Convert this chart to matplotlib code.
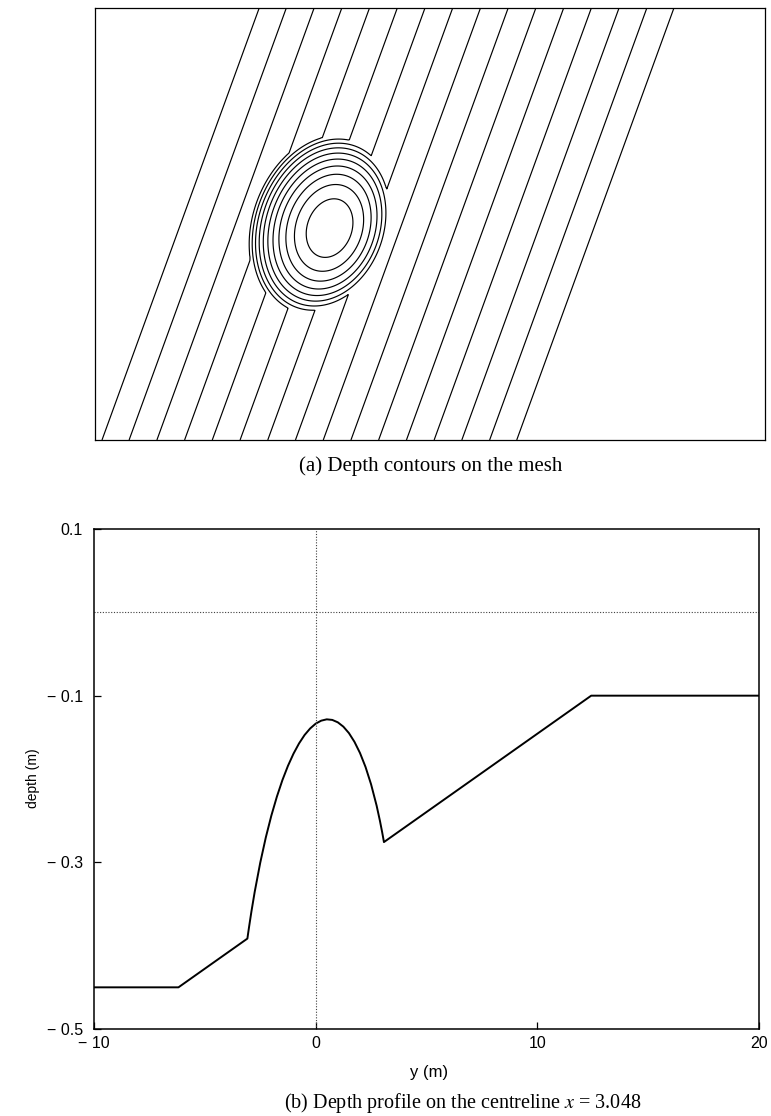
import numpy as np
import matplotlib
matplotlib.use("Agg")
import matplotlib.pyplot as plt

# ---------------- data ----------------
# Bathymetry (Berkhoff-type elliptic shoal on a 1:50 slope rotated 20 deg)
rotation_deg = 20.0
deep_depth = 0.45          # m
shallow_depth = 0.10       # m
slope_gradient = 0.02
slope_start = -5.82        # y' where the slope begins
shoal_axes = [4.0, 3.0]    # semi-axes of shoal footprint (x', y')
cap_axes = [5.0, 3.75]     # semi-axes of the cap function
cap_coeffs = [0.5, -0.3]   # cap = a*sqrt(...) + b

domain_y = [-10.0, 20.0]
domain_x = [-9.67, 9.67]

contour_levels = [0.1005, 0.1233, 0.1467, 0.1700, 0.1933, 0.2167, 0.2400,
                  0.2633, 0.2867, 0.3100, 0.3333, 0.3567, 0.3800, 0.4033,
                  0.4267, 0.4495]

# Depth profile on the centreline
profile_y = [-10.0, -6.19, -3.08, -3.05, -3.0, -2.9, -2.75, -2.5, -2.25, -2.0,
             -1.75, -1.5, -1.25, -1.0, -0.75, -0.5, -0.25, 0.0, 0.25, 0.5,
             0.75, 1.0, 1.25, 1.5, 1.75, 2.0, 2.25, 2.5, 2.75, 2.9, 3.0,
             3.05, 3.08, 12.43, 20.0]
profile_depth = [-0.450, -0.450, -0.3915, -0.3858, -0.3767, -0.3593, -0.3354,
                 -0.3004, -0.2702, -0.2440, -0.2212, -0.2013, -0.1842, -0.1696,
                 -0.1573, -0.1472, -0.1394, -0.1336, -0.1300, -0.1284, -0.1291,
                 -0.1320, -0.1372, -0.1449, -0.1554, -0.1688, -0.1856, -0.2064,
                 -0.2320, -0.2503, -0.2639, -0.2712, -0.2757, -0.100, -0.100]

ytick_vals = [0.1, -0.1, -0.3, -0.5]
ytick_labels = ["0.1", "\u2212 0.1", "\u2212 0.3", "\u2212 0.5"]
xtick_vals = [-10, 0, 10, 20]
xtick_labels = ["\u2212 10", "0", "10", "20"]

# ---------------- figure ----------------
W, H = 771, 1116
fig = plt.figure(figsize=(W / 100, H / 100), dpi=100)

def ax_rect(l, t, r, b):
    return [l / W, 1 - b / H, (r - l) / W, (b - t) / H]

sans = ["Liberation Sans", "DejaVu Sans"]
serif = ["Liberation Serif", "DejaVu Serif"]

# ---- (a) contours ----
ax1 = fig.add_axes(ax_rect(95, 8, 765, 440))
yy = np.linspace(domain_y[0], domain_y[1], 901)
xx = np.linspace(domain_x[0], domain_x[1], 601)
Y, X = np.meshgrid(yy, xx)
th = np.deg2rad(rotation_deg)
yr = Y * np.cos(th) - X * np.sin(th)
xr = X * np.cos(th) + Y * np.sin(th)
depth = deep_depth - slope_gradient * np.clip(yr - slope_start, 0, None)
depth = np.maximum(depth, shallow_depth)
inside = (xr / shoal_axes[0]) ** 2 + (yr / shoal_axes[1]) ** 2 < 1
arg = np.clip(1 - (xr / cap_axes[0]) ** 2 - (yr / cap_axes[1]) ** 2, 0, None)
cap = cap_coeffs[0] * np.sqrt(arg) + cap_coeffs[1]
depth = depth - np.where(inside, cap, 0.0)
ax1.contour(Y, X, depth, levels=contour_levels, colors="black", linewidths=0.85)
ax1.set_xlim(domain_y)
ax1.set_ylim(domain_x)
ax1.set_xticks([])
ax1.set_yticks([])
for s in ax1.spines.values():
    s.set_linewidth(0.9)

fig.text(431 / W, 1 - 466 / H, "(a) Depth contours on the mesh",
         ha="center", va="center", fontsize=15, family=serif)

# ---- (b) profile ----
ax2 = fig.add_axes(ax_rect(94, 529, 759, 1029))
ax2.plot(profile_y, profile_depth, color="black", lw=1.4)
ax2.axvline(0, color="0.25", lw=0.8, ls=(0, (1, 1.5)))
ax2.axhline(0, color="0.25", lw=0.8, ls=(0, (1, 1.5)))
ax2.set_xlim(-10, 20)
ax2.set_ylim(-0.5, 0.1)
ax2.set_yticks(ytick_vals)
ax2.set_yticklabels(ytick_labels, family=sans, fontsize=11.5)
ax2.set_xticks(xtick_vals)
ax2.set_xticklabels(xtick_labels, family=sans, fontsize=11.5)
ax2.tick_params(axis="y", direction="in", length=5, width=0.9, pad=8,
                right=False)
ax2.tick_params(axis="x", direction="in", length=5, width=0.9, pad=5,
                top=False)
for s in ax2.spines.values():
    s.set_linewidth(1.1)

fig.text(33 / W, 1 - 778 / H, "depth (m)", rotation=90, ha="center",
         va="center", fontsize=10, family=sans)
fig.text(429 / W, 1 - 1072 / H, "y (m)", ha="center", va="center",
         fontsize=12, family=sans)
fig.text(463 / W, 1 - 1103 / H, "(b) Depth profile on the centreline $x$ = 3.048",
         ha="center", va="center", fontsize=14.5, family=serif,
         math_fontfamily="stix")

fig.savefig("out.png", dpi=100)
